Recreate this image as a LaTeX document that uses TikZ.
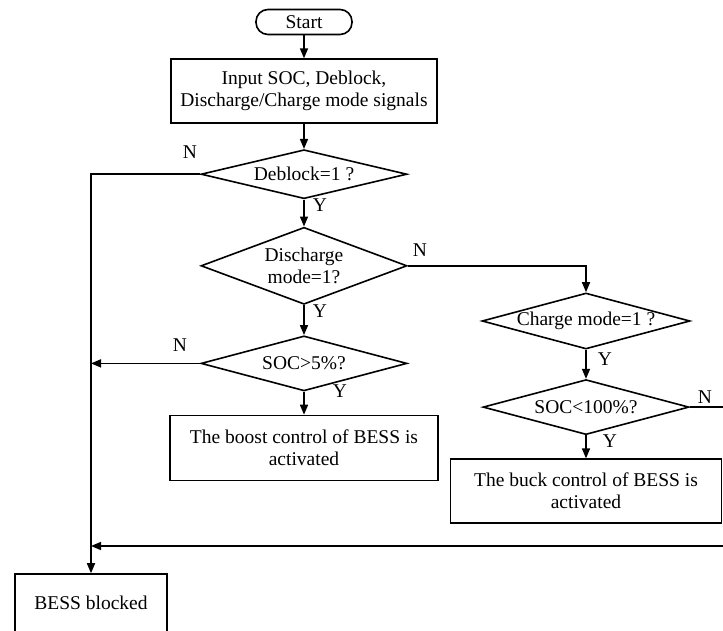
\documentclass[tikz,border=0pt]{standalone}
\usepackage{fontspec}
\setmainfont{Liberation Serif}
\usetikzlibrary{arrows.meta,positioning,shapes.geometric}

\begin{document}
\begin{tikzpicture}[
  x=1pt,y=-1pt,
  font=\fontsize{19.5}{22}\selectfont,
  line width=1.6pt,
  terminal/.style={
    rectangle,draw,rounded corners=12pt,
    minimum width=96pt,minimum height=25pt,inner sep=0pt
  },
  process/.style={
    rectangle,draw,align=center,inner sep=0pt
  },
  decision/.style={
    diamond,draw,align=center,inner sep=0pt,aspect=3.7
  },
  arrow/.style={-{Triangle[length=10pt,width=8pt]}}
]
\useasboundingbox (0,0) rectangle (723,630);
\clip (0,0) rectangle (723,630);

\node[terminal] (start) at (304,22) {Start};
\node[process, minimum width=266pt, minimum height=64pt, below=23pt of start] (input) {Input SOC, Deblock,\\Discharge/Charge mode signals};
\node[decision, minimum width=206pt, minimum height=49pt, below=25pt of input] (deblock) {Deblock=1 ?};
\node[decision, aspect=2.6, minimum width=206pt, minimum height=77pt, below=27pt of deblock] (discharge) {Discharge\\mode=1?};
\node[decision, minimum width=206pt, minimum height=55pt, below=30pt of discharge] (soc5) {SOC>5\%?};
\node[process, minimum width=268pt, minimum height=65pt, below=23pt of soc5] (boost) {The boost control of BESS is\\activated};

\node[decision, minimum width=208pt, minimum height=56pt] (charge) at (586,321) {Charge mode=1 ?};
\node[decision, minimum width=206pt, minimum height=55pt, below=29pt of charge] (soc100) {SOC<100\%?};
\node[process, minimum width=271pt, minimum height=64pt, below=23pt of soc100] (buck) {The buck control of BESS is\\activated};

\node[process, minimum width=152pt, minimum height=58pt] (blocked) at (91,603) {BESS blocked};
\coordinate (loopR) at (745,546);

% main column
\draw[arrow] (start) -- (input);
\draw[arrow] (input) -- (deblock);
\draw[arrow] (deblock) -- (discharge);
\draw[arrow] (discharge) -- (soc5);
\draw[arrow] (soc5) -- (boost);

% charge branch
\draw[arrow] (discharge.east) -| (charge.north);
\draw[arrow] (charge) -- (soc100);
\draw[arrow] (soc100) -- (buck);

% blocking paths
\draw[arrow] (deblock.west) -| (blocked.north);
\draw[arrow] (soc5.west) -- (soc5.west -| blocked.north);
\draw[arrow] (soc100.east) -| (loopR) -- (loopR -| blocked.north);

% branch labels
\node (nDeblock) at (190,152) {N};
\node (yDeblock) at (320,205) {Y};
\node (nDischarge) at (420,250) {N};
\node (yDischarge) at (320,311) {Y};
\node (nSoc5) at (180,345) {N};
\node (ySoc5) at (340,391) {Y};
\node (yCharge) at (605,359) {Y};
\node (nSoc100) at (705,397) {N};
\node (ySoc100) at (610,441) {Y};

\end{tikzpicture}
\end{document}
